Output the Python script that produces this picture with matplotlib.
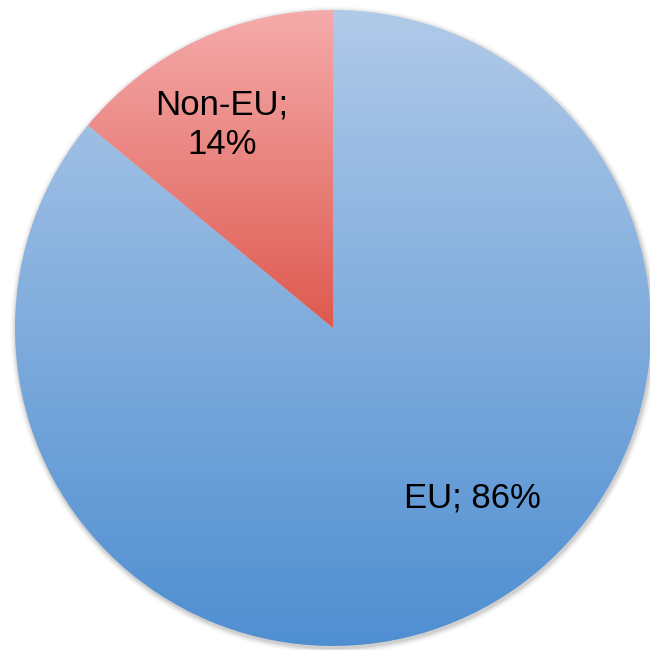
import numpy as np
import matplotlib
matplotlib.use("Agg")
import matplotlib.pyplot as plt
from matplotlib.colors import LinearSegmentedColormap
from matplotlib.patches import Circle

categories = ["EU", "Non-EU"]
values = [86, 14]
labels = ["EU; 86%", "Non-EU;\n14%"]

plt.rcParams['font.family'] = ['Liberation Sans', 'DejaVu Sans']

fig = plt.figure(figsize=(6.5, 6.5), dpi=100)
ax = fig.add_axes([0, 0, 1, 1])
ax.set_xlim(0, 650)
ax.set_ylim(0, 650)
ax.set_aspect('equal')
ax.axis('off')

cx, cy, R = 333, 322, 318

# soft shadow
for i, a in enumerate(np.linspace(0.05, 0.01, 6)):
    ax.add_patch(Circle((cx + 1, cy - 2), R + 1 + i, color='black', alpha=a, lw=0, zorder=0))

wedges, _ = ax.pie(values, startangle=90, counterclock=False, center=(cx, cy),
                   radius=R, colors=['none', 'none'], frame=True,
                   wedgeprops=dict(linewidth=0))
ax.set_xlim(0, 650)
ax.set_ylim(0, 650)
ax.axis('off')

grads = [
    ((0.69, 0.79, 0.91), (0.31, 0.56, 0.82), cy - R, cy + R),
    ((0.96, 0.67, 0.67), (0.87, 0.35, 0.31), cy, cy + R),
]
for w, (ctop, cbot, y0, y1) in zip(wedges, grads):
    cmap = LinearSegmentedColormap.from_list('g', [cbot, ctop])
    grad = np.linspace(0, 1, 256).reshape(-1, 1)
    im = ax.imshow(grad, cmap=cmap, extent=(cx - R, cx + R, y0, y1),
                   origin='lower', aspect='auto', zorder=1)
    im.set_clip_path(w)

ax.text(222, 650 - 125, labels[1], ha='center', va='center', fontsize=25,
        linespacing=1.25, zorder=3)
ax.text(472, 650 - 498, labels[0], ha='center', va='center', fontsize=25, zorder=3)

ax.set_xlim(0, 650)
ax.set_ylim(0, 650)
fig.savefig('out.png', dpi=100)
